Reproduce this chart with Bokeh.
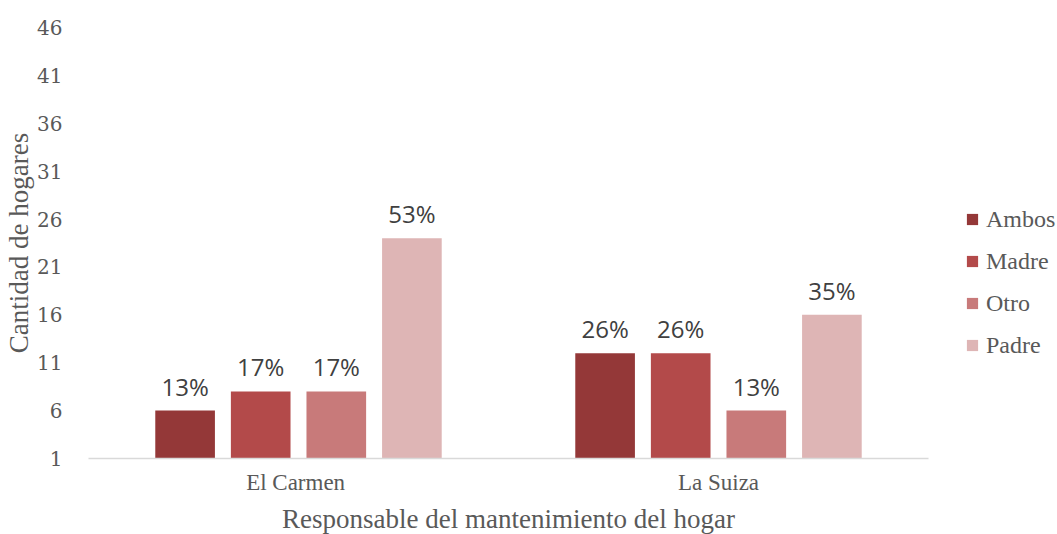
from bokeh.plotting import figure
from bokeh.models import (ColumnDataSource, FactorRange, Range1d, FixedTicker,
                          Legend, LegendItem, LabelSet)
from bokeh.transform import dodge
from bokeh.core.properties import value
from bokeh.embed import file_html
from bokeh.resources import INLINE

cities = ["El  Carmen", "La Suiza"]
series = ["Ambos", "Madre", "Otro", "Padre"]
ambos = [6, 12]
madre = [8, 12]
otro = [8, 6]
padre = [24, 16]
pct_ambos = ["13%", "26%"]
pct_madre = ["17%", "26%"]
pct_otro = ["17%", "13%"]
pct_padre = ["53%", "35%"]
y_ticks = [1, 6, 11, 16, 21, 26, 31, 36, 41, 46]

colors = ["#943838", "#b34a4a", "#c87a7a", "#deb5b5"]
offsets = [-0.27, -0.09, 0.09, 0.27]
values = [ambos, madre, otro, padre]
pcts = [pct_ambos, pct_madre, pct_otro, pct_padre]

p = figure(x_range=FactorRange(factors=cities), y_range=Range1d(1, 46),
           frame_width=840, frame_height=431, width=1057, height=534,
           output_backend="svg", toolbar_location=None,
           min_border_left=88, min_border_right=129, min_border_top=27,
           min_border_bottom=76)
p.outline_line_color = None
p.background_fill_color = "white"
p.xgrid.visible = False
p.ygrid.visible = False

items = []
for name, vals, pc, col, off in zip(series, values, pcts, colors, offsets):
    src = ColumnDataSource(dict(city=cities, v=vals, pct=pc))
    r = p.vbar(x=dodge("city", off, range=p.x_range), top="v", bottom=1,
               width=0.142, source=src, fill_color=col, line_color=None)
    items.append(LegendItem(label=name, renderers=[r]))
    lbl = LabelSet(x=dodge("city", off, range=p.x_range), y="v", text="pct",
                   source=src, text_align="center", text_baseline="bottom",
                   y_offset=8, text_font=value("Open Sans"),
                   text_font_size="24px", text_color="#404040")
    p.add_layout(lbl)

p.yaxis.ticker = FixedTicker(ticks=y_ticks)
p.yaxis.axis_line_color = None
p.yaxis.major_tick_line_color = None
p.yaxis.minor_tick_line_color = None
p.yaxis.major_label_text_font = "DejaVu Serif"
p.yaxis.major_label_text_font_size = "20px"
p.yaxis.major_label_text_color = "#595959"
p.yaxis.major_label_standoff = 20
p.yaxis.axis_label = "Cantidad de hogares"
p.yaxis.axis_label_text_font = "Liberation Serif"
p.yaxis.axis_label_text_font_size = "27px"
p.yaxis.axis_label_text_font_style = "normal"
p.yaxis.axis_label_text_color = "#595959"
p.yaxis.axis_label_standoff = 0

p.xaxis.axis_line_color = "#d9d9d9"
p.xaxis.axis_line_width = 1.5
p.xaxis.major_tick_line_color = None
p.xaxis.minor_tick_line_color = None
p.xaxis.major_label_text_font = "Liberation Serif"
p.xaxis.major_label_text_font_size = "23px"
p.xaxis.major_label_text_color = "#595959"
p.xaxis.major_label_standoff = 5
p.xaxis.axis_label = "Responsable del mantenimiento del hogar"
p.xaxis.axis_label_text_font = "Liberation Serif"
p.xaxis.axis_label_text_font_size = "27px"
p.xaxis.axis_label_text_font_style = "normal"
p.xaxis.axis_label_text_color = "#595959"
p.xaxis.axis_label_standoff = 6

legend = Legend(items=items, location=(37, 99), padding=0, margin=0,
                spacing=14, label_height=28, glyph_height=14, glyph_width=14,
                label_text_font="Liberation Serif", label_text_font_size="24px",
                label_text_color="#595959", border_line_color=None,
                background_fill_alpha=0, label_standoff=7)
p.add_layout(legend, "right")

open("out.html", "w").write(file_html(p, INLINE))
